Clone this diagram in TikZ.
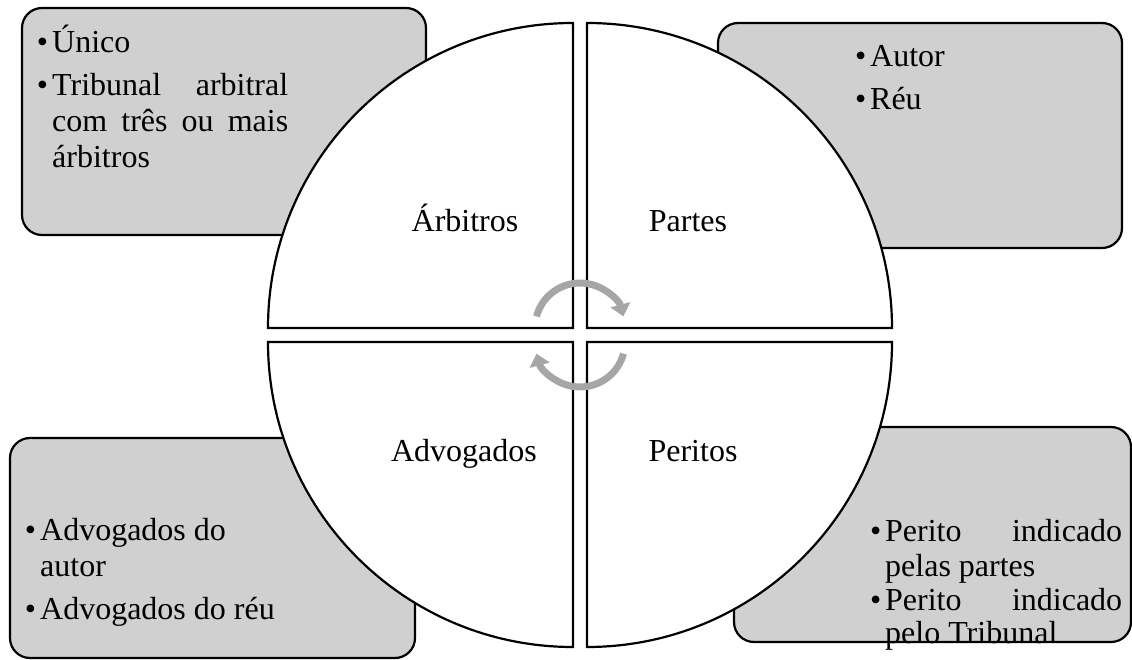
\documentclass[tikz,border=0pt]{standalone}
\usepackage{fontspec}
\setmainfont{Liberation Serif}
\usetikzlibrary{arrows.meta}
\definecolor{boxgray}{RGB}{208,208,208}
\definecolor{arrgray}{RGB}{166,166,166}
\newcommand{\bul}{\llap{\textbullet\kern4pt}}
\begin{document}
\begin{tikzpicture}[x=1pt,y=1pt,
  infobox/.style={draw=black, line width=2.2pt, fill=boxgray, rounded corners=20pt},
  quad/.style={draw=black, line width=2.2pt, fill=white},
  cyc/.style={draw=arrgray, line width=7pt, -{Triangle[length=12pt,width=20pt]}},
  lbl/.style={font=\fontsize{32}{36}\selectfont, inner sep=0pt, anchor=base},
  txt/.style={font=\fontsize{32}{36}\selectfont, inner sep=0pt, anchor=base west},
]
\useasboundingbox (0,0) rectangle (1132,-660);
% side boxes
\draw[infobox] (22,-8) rectangle (426,-235);
\draw[infobox] (718,-23) rectangle (1122,-248);
\draw[infobox] (10,-438) rectangle (415,-658);
\draw[infobox] (734,-427) rectangle (1131,-642);
% quadrants
\draw[quad] (573,-328) -- (268,-328) arc[start angle=180,end angle=90,radius=305pt] -- cycle;
\draw[quad] (587,-328) -- (587,-23) arc[start angle=90,end angle=0,radius=305pt] -- cycle;
\draw[quad] (573,-342) -- (268,-342) arc[start angle=180,end angle=270,radius=305pt] -- cycle;
\draw[quad] (587,-342) -- (892,-342) arc[start angle=0,end angle=-90,radius=305pt] -- cycle;
% cycle arrows
\draw[cyc] (580pt,-328pt) ++(165:45pt) arc[start angle=165,end angle=15,radius=45pt];
\draw[cyc] (580pt,-342pt) ++(-15:45pt) arc[start angle=-15,end angle=-165,radius=45pt];
% quadrant labels
\node[lbl] (arb) at (465,-232) {Árbitros};
\node[lbl] (par) at (688,-232) {Partes};
\node[lbl] (adv) at (464,-461) {Advogados};
\node[lbl] (per) at (693,-461) {Peritos};
% top-left box text
\node[txt] (tl1) at (52,-53) {\bul Único};
\node[txt] (tl2) at (52,-96) {\bul\makebox[236pt][s]{Tribunal arbitral}};
\node[txt] (tl3) at (52,-132) {\makebox[236pt][s]{com três ou mais}};
\node[txt] (tl4) at (52,-168) {árbitros};
% top-right box text
\node[txt] (tr1) at (870,-67) {\bul Autor};
\node[txt] (tr2) at (870,-110) {\bul Réu};
% bottom-left box text
\node[txt] (bl1) at (40,-540) {\bul Advogados do};
\node[txt] (bl2) at (40,-576) {autor};
\node[txt] (bl3) at (40,-619) {\bul Advogados do réu};
% bottom-right box text
\node[txt] (br1) at (885,-541) {\bul\makebox[237pt][s]{Perito indicado}};
\node[txt] (br2) at (885,-576) {pelas partes};
\node[txt] (br3) at (885,-610) {\bul\makebox[237pt][s]{Perito indicado}};
\node[txt] (br4) at (885,-643) {pelo Tribunal};
\end{tikzpicture}
\end{document}
